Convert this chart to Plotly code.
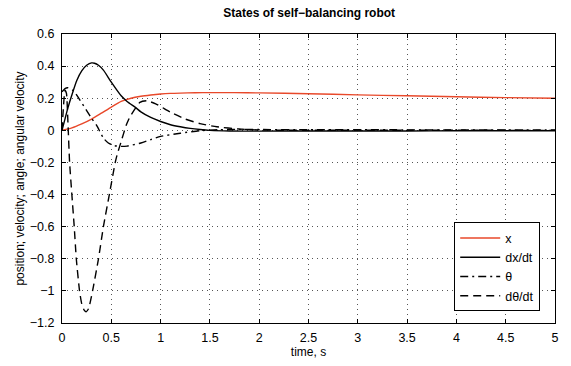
import plotly.graph_objects as go

# ---- data ----
t_x = [0, 0.1, 0.2, 0.3, 0.4, 0.5, 0.6, 0.7, 0.8, 0.9, 1.0, 1.1, 1.2, 1.35, 1.5, 1.75, 2.0, 2.5, 3.0, 3.5, 4.0, 4.5, 5.0]
x_pos = [0, 0.015, 0.04, 0.07, 0.107, 0.145, 0.18, 0.2, 0.212, 0.22, 0.226, 0.23, 0.232, 0.234, 0.235, 0.235, 0.233, 0.228, 0.221, 0.215, 0.209, 0.204, 0.2]

t_dx = [0, 0.03, 0.06, 0.1, 0.15, 0.2, 0.25, 0.3, 0.33, 0.37, 0.42, 0.5, 0.6, 0.66, 0.75, 0.8, 0.9, 1.0, 1.1, 1.2, 1.3, 1.4, 1.5, 1.7, 2.0, 2.5, 3.0, 3.5, 4.0, 4.5, 5.0]
dx_dt = [0, 0.07, 0.14, 0.22, 0.31, 0.37, 0.405, 0.42, 0.418, 0.405, 0.375, 0.3, 0.215, 0.18, 0.14, 0.115, 0.08, 0.055, 0.035, 0.022, 0.012, 0.005, 0.0, -0.004, -0.005, -0.004, -0.004, -0.004, -0.003, -0.003, -0.003]

t_th = [0, 0.03, 0.06, 0.12, 0.18, 0.25, 0.3, 0.35, 0.42, 0.47, 0.53, 0.6, 0.66, 0.8, 0.9, 1.0, 1.2, 1.4, 1.6, 1.8, 2.0, 2.5, 3.0, 3.5, 4.0, 4.5, 5.0]
theta = [0.24, 0.26, 0.265, 0.244, 0.19, 0.123, 0.075, 0.032, -0.048, -0.079, -0.095, -0.1, -0.098, -0.079, -0.058, -0.038, -0.018, -0.002, 0.004, 0.006, 0.005, 0.004, 0.004, 0.003, 0.003, 0.003, 0.003]

t_dth = [0, 0.015, 0.03, 0.045, 0.06, 0.077, 0.1, 0.124, 0.145, 0.178, 0.2, 0.225, 0.245, 0.27, 0.31, 0.37, 0.42, 0.48, 0.54, 0.56, 0.6, 0.65, 0.69, 0.79, 0.86, 0.95, 1.1, 1.25, 1.4, 1.57, 1.8, 2.0, 2.5, 3.0, 3.5, 4.0, 4.5, 5.0]
dtheta_dt = [0, 0.15, 0.25, 0.23, 0.05, -0.2, -0.4, -0.6, -0.8, -1.0, -1.08, -1.12, -1.13, -1.11, -1.0, -0.8, -0.6, -0.4, -0.2, -0.15, -0.07, 0.03, 0.085, 0.174, 0.184, 0.165, 0.113, 0.07, 0.042, 0.022, 0.008, 0.002, 0.0, 0.001, 0.0, 0.001, 0.0, 0.0]

x_ticks = [0, 0.5, 1, 1.5, 2, 2.5, 3, 3.5, 4, 4.5, 5]
x_ticklabels = ["0", "0.5", "1", "1.5", "2", "2.5", "3", "3.5", "4", "4.5", "5"]
y_ticks = [0.6, 0.4, 0.2, 0, -0.2, -0.4, -0.6, -0.8, -1, -1.2]
y_ticklabels = ["0.6", "0.4", "0.2", "0", "\u22120.2", "\u22120.4", "\u22120.6", "\u22120.8", "\u22121", "\u22121.2"]

FONT = "Liberation Sans, Arial, Helvetica, sans-serif"

fig = go.Figure()
fig.add_trace(go.Scatter(x=t_x, y=x_pos, mode="lines", name="x",
                         line=dict(color="#E8482A", width=1.4, shape="spline", smoothing=0.6)))
fig.add_trace(go.Scatter(x=t_dx, y=dx_dt, mode="lines", name="dx/dt",
                         line=dict(color="black", width=1.4, shape="spline", smoothing=0.6)))
fig.add_trace(go.Scatter(x=t_th, y=theta, mode="lines", name="\u03b8",
                         line=dict(color="black", width=1.4, dash="8px,4px,2px,4px", shape="spline", smoothing=0.6)))
fig.add_trace(go.Scatter(x=t_dth, y=dtheta_dt, mode="lines", name="d\u03b8/dt",
                         line=dict(color="black", width=1.4, dash="8px,5px", shape="spline", smoothing=0.5)))

axis_common = dict(showline=True, linecolor="black", linewidth=1, mirror="ticks",
                   ticks="inside", ticklen=4, tickcolor="black",
                   showgrid=True, gridcolor="#555555", griddash="1px,4px", gridwidth=1,
                   zeroline=False, tickfont=dict(family=FONT, size=12.5, color="black"))

fig.update_layout(
    width=571, height=366,
    margin=dict(l=62, r=14, t=34, b=36),
    paper_bgcolor="white", plot_bgcolor="white",
    title=dict(text="<b>States of self\u2212balancing robot</b>", x=0.5415, xanchor="center",
               y=0.965, yanchor="middle", font=dict(family=FONT, size=12, color="black")),
    xaxis=dict(range=[0, 5], tickvals=x_ticks, ticktext=x_ticklabels, ticklabelstandoff=3,
               title=dict(text="time, s", font=dict(family=FONT, size=12, color="black"), standoff=1),
               **axis_common),
    yaxis=dict(range=[-1.2, 0.6], tickvals=y_ticks, ticktext=y_ticklabels, ticklabelstandoff=4,
               title=dict(text="position; velocity; angle; angular velocity",
                          font=dict(family=FONT, size=12, color="black"), standoff=2),
               **axis_common),
    legend=dict(x=0.97, xanchor="right", y=0.04, yanchor="bottom",
                bgcolor="white", bordercolor="black", borderwidth=1,
                font=dict(family=FONT, size=12.5, color="black"),
                itemwidth=40, tracegroupgap=0),
    showlegend=True,
)

fig.write_html("out.html")
